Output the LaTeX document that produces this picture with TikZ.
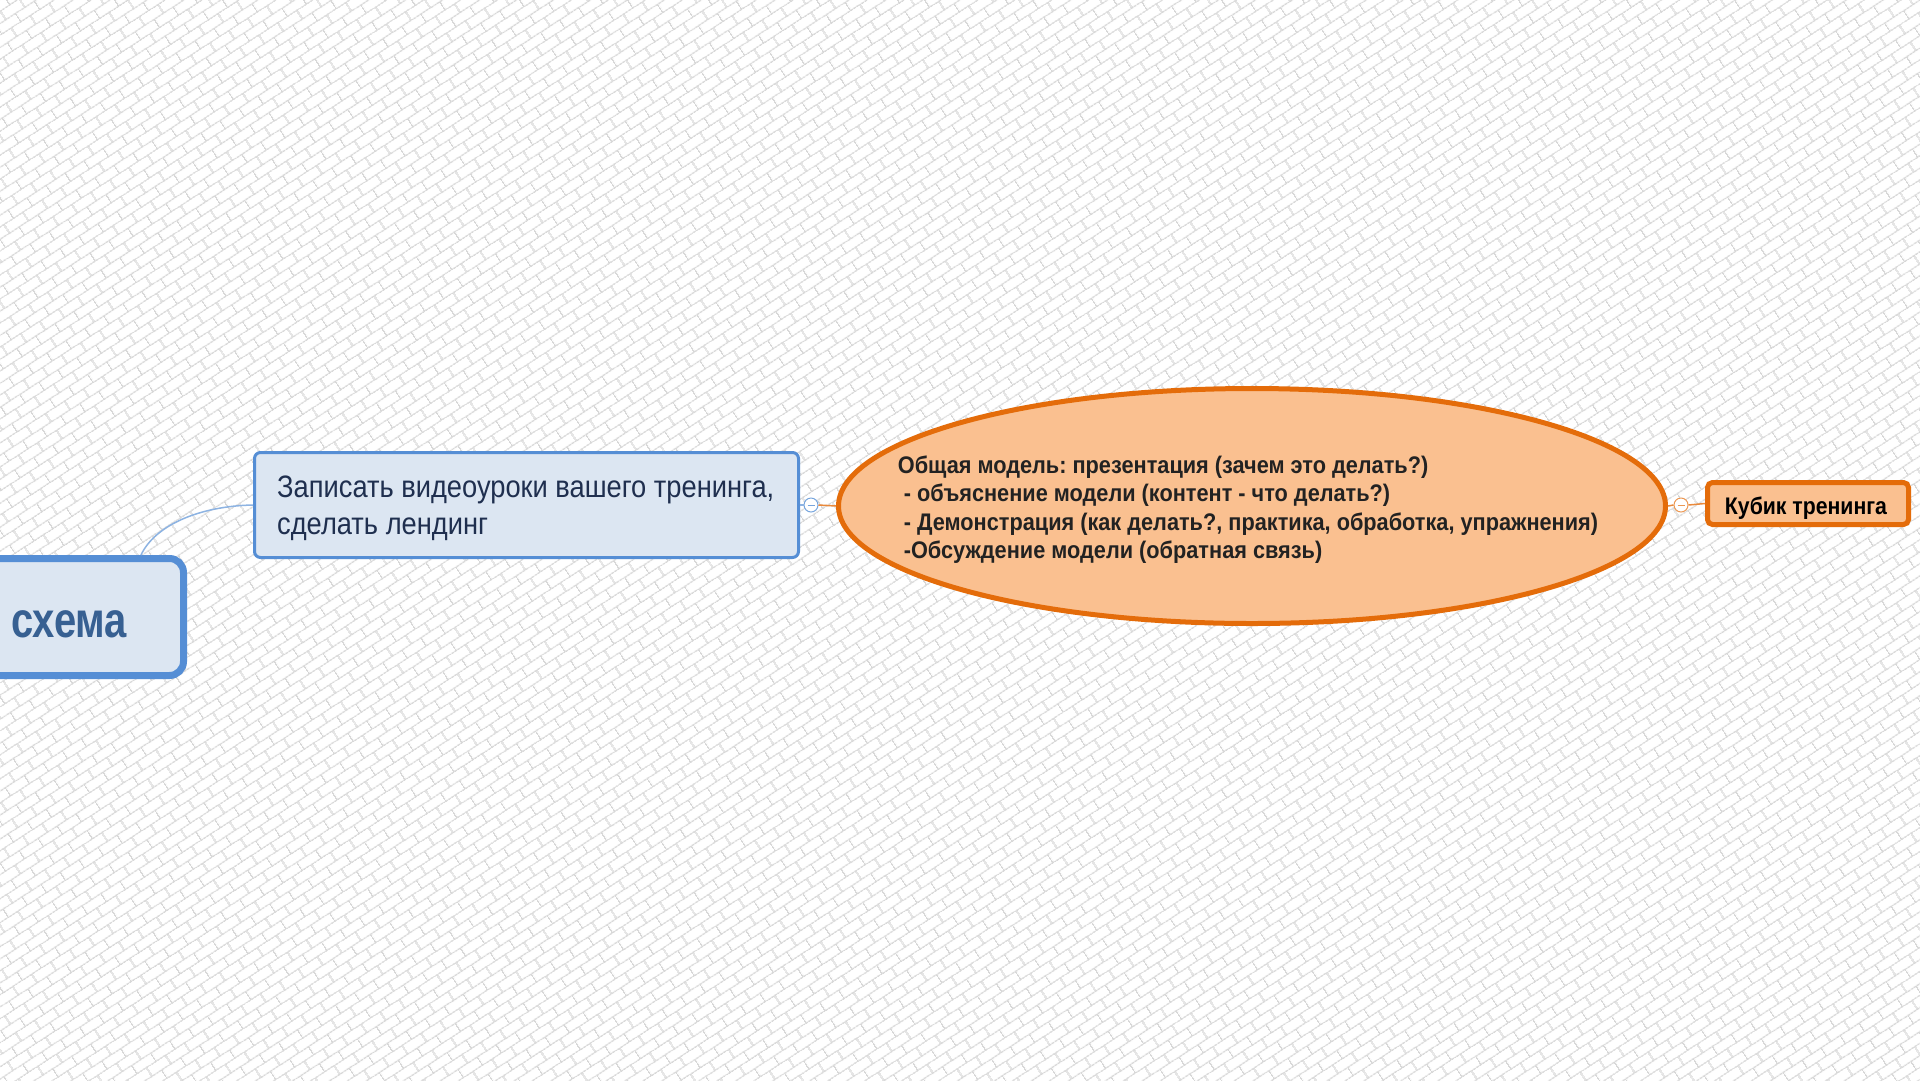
\documentclass[tikz,border=0pt]{standalone}
\usepackage{fontspec}
\setmainfont{Liberation Sans}
\newfontfamily\rootfont[FakeStretch=0.80]{Liberation Sans}
\newfontfamily\lessonfont[FakeStretch=0.88]{Liberation Sans}
\newfontfamily\modelfont[FakeStretch=0.905]{Liberation Sans}
\newfontfamily\cubefont[FakeStretch=0.885]{Liberation Sans}
\usetikzlibrary{shapes.geometric,patterns.meta}
\frenchspacing

\definecolor{bgline}{HTML}{D8D8D8}
\definecolor{bluefill}{HTML}{DCE6F2}
\definecolor{blueborder}{HTML}{558ED5}
\definecolor{bluetext}{HTML}{1F2F4F}
\definecolor{roottext}{HTML}{376092}
\definecolor{bluecon}{HTML}{8DB3E2}
\definecolor{orfill}{HTML}{FAC090}
\definecolor{orborder}{HTML}{E46C0A}
\definecolor{ortext}{HTML}{222222}

\tikzdeclarepattern{
  name=bricks,
  type=uncolored,
  bottom left={(0pt,0pt)},
  top right={(23pt,20pt)},
  tile size={(23pt,20pt)},
  tile transformation={rotate=33},
  code={
    \draw[line width=1.4pt]
      (0pt,5pt) -- (23pt,5pt)
      (0pt,15pt) -- (23pt,15pt)
      (5.75pt,5pt) -- (5.75pt,15pt)
      (17.25pt,15pt) -- (17.25pt,20pt)
      (17.25pt,0pt) -- (17.25pt,5pt);
  }
}

\tikzset{
  rootbox/.style={draw=blueborder, fill=bluefill, line width=7pt, rounded corners=14pt,
    minimum width=480pt, minimum height=117pt, inner sep=0pt},
  bluebox/.style={draw=blueborder, fill=bluefill, line width=3pt, rounded corners=6pt,
    minimum width=544pt, minimum height=105pt, inner sep=0pt},
  bluetxt/.style={anchor=west, inner sep=0pt, align=left, text=bluetext,
    font=\lessonfont\fontsize{31}{37}\selectfont},
  ellbox/.style={ellipse, draw=orborder, fill=orfill, line width=5pt,
    minimum width=827pt, minimum height=235pt, inner sep=0pt},
  elltxt/.style={inner sep=0pt, align=left, text=ortext,
    font=\modelfont\bfseries\fontsize{24}{28.5}\selectfont},
  cubebox/.style={draw=orborder, fill=orfill, line width=5pt, rounded corners=5pt,
    minimum width=201pt, minimum height=42pt, inner sep=0pt},
  cubetxt/.style={inner sep=0pt, text=black,
    font=\cubefont\bfseries\fontsize{24}{28}\selectfont},
  collapse/.style={circle, draw=#1, fill=white, line width=1pt, minimum size=14pt, inner sep=0pt,
    path picture={\draw[#1, line width=1pt]
      ([xshift=-3.5pt]path picture bounding box.center) --
      ([xshift=3.5pt]path picture bounding box.center);}},
  blueconn/.style={draw=bluecon, line width=1.5pt},
  orconn/.style={draw=orborder!80, line width=1.5pt},
}

\begin{document}
\begin{tikzpicture}[x=1pt,y=-1pt]
\useasboundingbox (0,0) rectangle (1920,1080);
\fill[white] (0,0) rectangle (1920,1080);
\fill[pattern=bricks, pattern color=bgline] (0,0) rectangle (1920,1080);

\node[rootbox] (root) at (-56.5,617) {};
\node[anchor=base west, text=roottext, inner sep=0pt,
  font=\rootfont\bfseries\fontsize{50}{58}\selectfont] (roottxt) at (11,637) {схема};

\node[bluebox] (lesson) at (526.5,505) {};
\node[bluetxt] (lessontxt) at (277,508.5) {Записать видеоуроки вашего тренинга,\\сделать лендинг};

\node[ellbox] (model) at (1252,506) {};
\node[elltxt] (modeltxt) at (1248,509.5) {Общая модель: презентация (зачем это делать?)\\
\hspace*{6pt}- объяснение модели (контент - что делать?)\\
\hspace*{6pt}- Демонстрация (как делать?, практика, обработка, упражнения)\\
\hspace*{6pt}-Обсуждение модели (обратная связь)};

\node[cubebox] (cube) at (1808,503.5) {};
\node[cubetxt] (cubetxt) at (1806,508.5) {Кубик тренинга};

\node[collapse=blueborder!80] (c1) at (811,505) {};
\node[collapse=orborder!70] (c2) at (1681,505) {};

\draw[blueconn] ([xshift=-46pt]root.north east) .. controls (155,525) and (200,506) .. (lesson.west);
\draw[blueconn] (lesson.east) -- (c1.west);
\draw[orconn] (c1.east) -- (model.west);
\draw[orconn] (model.east) -- (c2.west);
\draw[orconn] (c2.east) -- (cube.west);
\end{tikzpicture}
\end{document}
